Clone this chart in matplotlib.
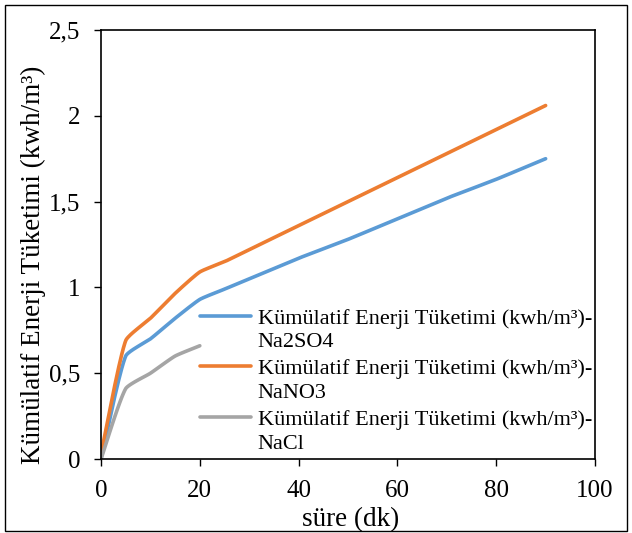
import matplotlib
matplotlib.use('Agg')
import matplotlib.pyplot as plt
import numpy as np
from matplotlib.legend_handler import HandlerLine2D
from matplotlib.patches import Rectangle
from matplotlib.ticker import FuncFormatter

plt.rcParams['font.family'] = ['Liberation Serif', 'DejaVu Serif']

# Data (minutes vs kWh/m3)
time_long = [0, 5, 10, 15, 20, 25, 30, 40, 50, 60, 70, 80, 90]
na2so4 = [0.0, 0.60, 0.70, 0.82, 0.93, 0.99, 1.05, 1.17, 1.28, 1.40, 1.52, 1.63, 1.75]
nano3 = [0.03, 0.69, 0.82, 0.965, 1.09, 1.15, 1.22, 1.36, 1.50, 1.64, 1.78, 1.92, 2.06]
time_short = [0, 5, 10, 15, 20]
nacl = [0.0, 0.41, 0.50, 0.60, 0.66]

series_labels = [
    'Kümülatif Enerji Tüketimi (kwh/m³)-\nNa2SO4',
    'Kümülatif Enerji Tüketimi (kwh/m³)-\nNaNO3',
    'Kümülatif Enerji Tüketimi (kwh/m³)-\nNaCl',
]
colors = ['#5B9BD5', '#ED7D31', '#A5A5A5']


def smooth(xs, ys, sx=4.94, sy=171.6, k=0.17, n=30):
    # smoothed line like Excel: cubic Bezier through the points,
    # handle length tied to the segment length so nothing overshoots
    P = np.column_stack([np.asarray(xs, float) * sx, np.asarray(ys, float) * sy])
    P = np.vstack([P[0], P, P[-1]])
    out = []
    t = np.linspace(0, 1, n)[:, None]
    for i in range(1, len(P) - 2):
        p0, p1, p2, p3 = P[i - 1:i + 3]
        L = np.linalg.norm(p2 - p1)
        d1 = (p2 - p0) / np.linalg.norm(p2 - p0)
        d2 = (p3 - p1) / np.linalg.norm(p3 - p1)
        c1 = p1 + k * L * d1
        c2 = p2 - k * L * d2
        seg = (1 - t) ** 3 * p1 + 3 * (1 - t) ** 2 * t * c1 + 3 * (1 - t) * t ** 2 * c2 + t ** 3 * p2
        out.append(seg if i == 1 else seg[1:])
    pts = np.vstack(out)
    return pts[:, 0] / sx, pts[:, 1] / sy


class FirstLineHandler(HandlerLine2D):
    # put the legend line next to the first text line, like Excel
    def create_artists(self, legend, orig_handle, xdescent, ydescent, width, height, fontsize, trans):
        artists = super().create_artists(legend, orig_handle, xdescent, ydescent,
                                         width, height, fontsize, trans)
        for a in artists:
            a.set_ydata(np.asarray(a.get_ydata()) + 0.64 * fontsize)
        return artists


fig = plt.figure(figsize=(6.32, 5.33), dpi=100)
ax = fig.add_axes([0.1598, 0.1388, 0.7817, 0.8049])

for xs, ys, lab, c in zip([time_long, time_long, time_short],
                          [na2so4, nano3, nacl], series_labels, colors):
    sx_, sy_ = smooth(xs, ys)
    ax.plot(sx_, sy_, color=c, lw=2.6, label=lab, solid_capstyle='round')

ax.set_xlim(0, 100)
ax.set_ylim(0, 2.5)
ax.set_xticks([0, 20, 40, 60, 80, 100])
ax.set_yticks([0, 0.5, 1, 1.5, 2, 2.5])
ax.yaxis.set_major_formatter(FuncFormatter(lambda v, _: f'{v:g}'.replace('.', ',')))
ax.tick_params(direction='out', length=5, width=1, labelsize=18, pad=10, color='black')
for s in ax.spines.values():
    s.set_linewidth(1.2)
    s.set_color('black')

ax.set_xlabel('süre (dk)', fontsize=19.5)
ax.set_ylabel('Kümülatif Enerji Tüketimi (kwh/m³)', fontsize=19.5)
ax.xaxis.set_label_coords(0.505, -0.112)
ax.yaxis.set_label_coords(-0.112, 0.452)

handles, labels = ax.get_legend_handles_labels()
leg = ax.legend(handles, labels, loc='upper left', bbox_to_anchor=(0.2, 0.35),
                frameon=False, fontsize=16, borderpad=0, borderaxespad=0,
                handlelength=2.3, handletextpad=0.3, labelspacing=0.33,
                handler_map={h: FirstLineHandler() for h in handles})
for txt in leg.get_texts():
    txt.set_linespacing(1.32)

fig.add_artist(Rectangle((0.008, 0.003), 0.984, 0.988, transform=fig.transFigure,
                         fill=False, edgecolor='black', lw=1))

fig.savefig('out.png', dpi=100)
